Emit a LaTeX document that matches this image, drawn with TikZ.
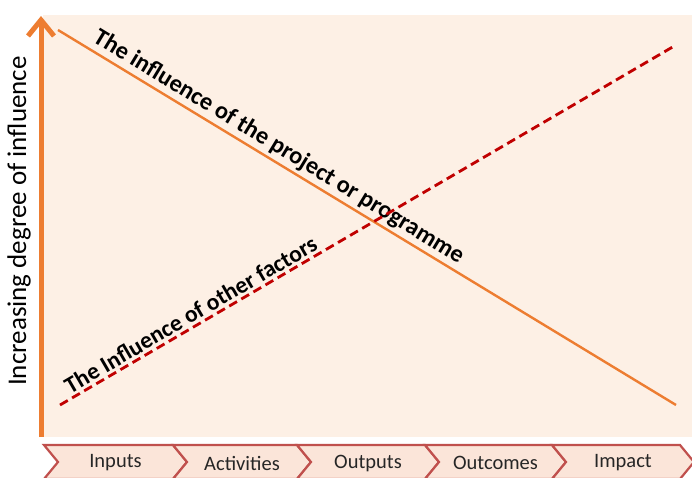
\documentclass[tikz,border=0pt]{standalone}
\usepackage{fontspec}
\setmainfont{Carlito}
\usetikzlibrary{arrows.meta}
\definecolor{panel}{RGB}{253,240,229}
\definecolor{axisorange}{RGB}{237,125,49}
\definecolor{dashred}{RGB}{192,0,0}
\definecolor{chevfill}{RGB}{251,229,217}
\definecolor{chevline}{RGB}{192,80,77}
\begin{document}
\begin{tikzpicture}[x=1pt,y=1pt,
  chev/.style={fill=chevfill,draw=chevline,line width=2.2pt,line join=miter},
  chevtext/.style={font=\fontsize{20.5}{20.5}\selectfont,text=black!85},
  projline/.style={draw=axisorange,line width=2.4pt},
  otherline/.style={draw=dashred,line width=2.8pt,dash pattern=on 9pt off 5pt},
  linelabel/.style={font=\bfseries\fontsize{23.5}{23.5}\selectfont,sloped,above=2.5pt,inner sep=0pt},
  axisarrow/.style={draw=axisorange,line width=5pt,-{Straight Barb[length=16pt,width=26pt,line width=5pt]}}
]
\useasboundingbox (0,0) rectangle (692,477);
% background panel
\fill[panel] (43,40) rectangle (692,462);

% vertical axis
\coordinate (ybot) at (41,40);
\coordinate (ytop) at (41,461);
\draw[axisarrow] (ybot) -- (ytop);
\node[rotate=90,font=\fontsize{27}{27}\selectfont] (ylabel) at (19,256) {Increasing degree of influence};

% influence lines
\coordinate (pa) at (58,447);
\coordinate (pb) at (676,72);
\coordinate (oa) at (60,72);
\coordinate (ob) at (676,432);
\draw[projline] (pa) -- node[linelabel,font=\bfseries\fontsize{24.3}{24.3}\selectfont,pos=0.345] (projlabel) {The influence of the project or programme} (pb);
\draw[otherline] (oa) -- node[linelabel,pos=0.222] (otherlabel) {The Influence of other factors} (ob);

% results chain chevrons
\foreach \l/\r/\t/\n in {44/173/Inputs/c1,173/297/Activities/c2,297/425/Outputs/c3,425/552/Outcomes/c4,552/680/Impact/c5}{
  \draw[chev] (\l,32) -- (\r,32) -- (\r+14,15) -- (\r,-2) -- (\l,-2) -- (\l+14,15) -- cycle;
  \node[chevtext] (\n) at ({(\l+\r)/2+7},14) {\t};
}
\end{tikzpicture}
\end{document}
